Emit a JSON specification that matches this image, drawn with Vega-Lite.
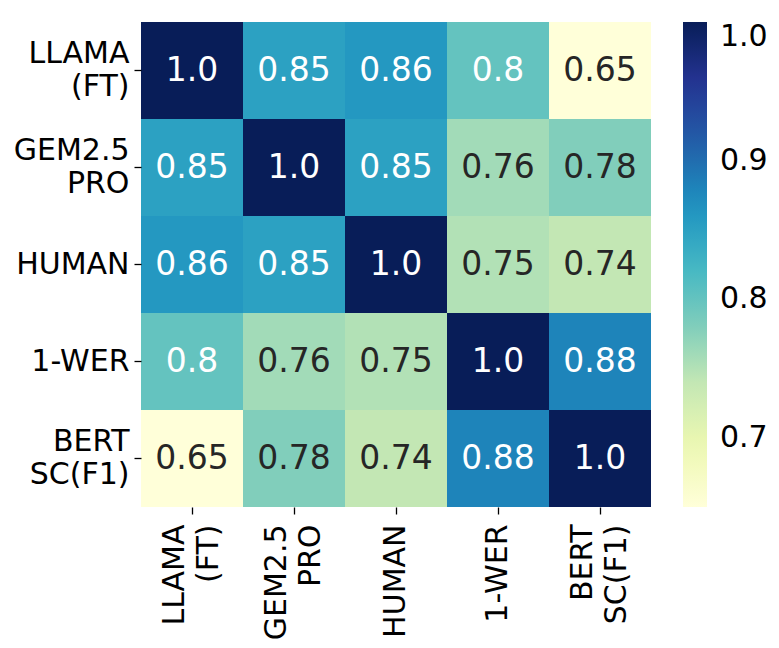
{
  "$schema": "https://vega.github.io/schema/vega-lite/v6.json",
  "width": 510,
  "height": 485,
  "autosize": {"type": "none"},
  "padding": {"left": 141, "top": 22, "right": 128, "bottom": 141},
  "background": "white",
  "config": {
    "view": {"stroke": null},
    "font": "DejaVu Sans"
  },
  "data": {
    "values": [
      {"row": "LLAMA (FT)", "col": "LLAMA (FT)", "v": 1.0},
      {"row": "LLAMA (FT)", "col": "GEM2.5 PRO", "v": 0.85},
      {"row": "LLAMA (FT)", "col": "HUMAN", "v": 0.86},
      {"row": "LLAMA (FT)", "col": "1-WER", "v": 0.8},
      {"row": "LLAMA (FT)", "col": "BERT SC(F1)", "v": 0.65},
      {"row": "GEM2.5 PRO", "col": "LLAMA (FT)", "v": 0.85},
      {"row": "GEM2.5 PRO", "col": "GEM2.5 PRO", "v": 1.0},
      {"row": "GEM2.5 PRO", "col": "HUMAN", "v": 0.85},
      {"row": "GEM2.5 PRO", "col": "1-WER", "v": 0.76},
      {"row": "GEM2.5 PRO", "col": "BERT SC(F1)", "v": 0.78},
      {"row": "HUMAN", "col": "LLAMA (FT)", "v": 0.86},
      {"row": "HUMAN", "col": "GEM2.5 PRO", "v": 0.85},
      {"row": "HUMAN", "col": "HUMAN", "v": 1.0},
      {"row": "HUMAN", "col": "1-WER", "v": 0.75},
      {"row": "HUMAN", "col": "BERT SC(F1)", "v": 0.74},
      {"row": "1-WER", "col": "LLAMA (FT)", "v": 0.8},
      {"row": "1-WER", "col": "GEM2.5 PRO", "v": 0.76},
      {"row": "1-WER", "col": "HUMAN", "v": 0.75},
      {"row": "1-WER", "col": "1-WER", "v": 1.0},
      {"row": "1-WER", "col": "BERT SC(F1)", "v": 0.88},
      {"row": "BERT SC(F1)", "col": "LLAMA (FT)", "v": 0.65},
      {"row": "BERT SC(F1)", "col": "GEM2.5 PRO", "v": 0.78},
      {"row": "BERT SC(F1)", "col": "HUMAN", "v": 0.74},
      {"row": "BERT SC(F1)", "col": "1-WER", "v": 0.88},
      {"row": "BERT SC(F1)", "col": "BERT SC(F1)", "v": 1.0}
    ]
  },
  "transform": [
    {"calculate": "datum.v === 1 ? '1.0' : toString(datum.v)", "as": "label"}
  ],
  "encoding": {
    "x": {
      "field": "col",
      "type": "nominal",
      "sort": ["LLAMA (FT)", "GEM2.5 PRO", "HUMAN", "1-WER", "BERT SC(F1)"],
      "scale": {"paddingInner": 0, "paddingOuter": 0},
      "axis": {
        "title": null,
        "domain": false,
        "grid": false,
        "orient": "bottom",
        "labelAngle": 270,
        "labelAlign": "right",
        "labelBaseline": "middle",
        "labelExpr": "split(datum.label, ' ')",
        "labelLineHeight": 34,
        "labelOffset": {"condition": {"test": "indexof(datum.value, ' ') >= 0", "value": -17}, "value": 0},
        "labelFont": "DejaVu Sans",
        "labelFontSize": 30,
        "labelColor": "black",
        "labelPadding": 10,
        "tickSize": 7,
        "tickWidth": 1.3,
        "tickColor": "black",
        "labelOverlap": false
      }
    },
    "y": {
      "field": "row",
      "type": "nominal",
      "sort": ["LLAMA (FT)", "GEM2.5 PRO", "HUMAN", "1-WER", "BERT SC(F1)"],
      "scale": {"paddingInner": 0, "paddingOuter": 0},
      "axis": {
        "title": null,
        "domain": false,
        "grid": false,
        "labelAngle": 0,
        "labelAlign": "right",
        "labelBaseline": "middle",
        "labelExpr": "split(datum.label, ' ')",
        "labelLineHeight": 33,
        "labelOffset": {"condition": {"test": "indexof(datum.value, ' ') >= 0", "value": -16.5}, "value": 0},
        "labelFont": "DejaVu Sans",
        "labelFontSize": 30,
        "labelColor": "black",
        "labelPadding": 5,
        "tickSize": 7,
        "tickWidth": 1.3,
        "tickColor": "black",
        "labelOverlap": false
      }
    }
  },
  "layer": [
    {
      "mark": {"type": "rect"},
      "encoding": {
        "color": {
          "field": "v",
          "type": "quantitative",
          "scale": {
            "domain": [0.65, 0.69375, 0.7375, 0.78125, 0.825, 0.86875, 0.9125, 0.95625, 1.0],
            "range": ["#ffffd9", "#edf8b1", "#c7e9b4", "#7fcdbb", "#41b6c4", "#1d91c0", "#225ea8", "#253494", "#081d58"],
            "interpolate": "rgb"
          },
          "legend": {
            "title": null,
            "orient": "right",
            "direction": "vertical",
            "values": [0.7, 0.8, 0.9, 1.0],
            "format": ".1f",
            "gradientLength": 485,
            "gradientThickness": 24,
            "gradientStrokeWidth": 0,
            "offset": 32,
            "padding": 0,
            "labelFont": "DejaVu Sans",
            "labelFontSize": 30,
            "labelColor": "black",
            "labelOffset": 13,
            "labelBaseline": "middle",
            "labelOverlap": false
          }
        }
      }
    },
    {
      "mark": {"type": "text", "font": "DejaVu Sans", "fontSize": 33, "baseline": "middle", "align": "center"},
      "encoding": {
        "text": {"field": "label", "type": "nominal"},
        "color": {
          "condition": {"test": "datum.v >= 0.79", "value": "white"},
          "value": "#262626"
        }
      }
    }
  ]
}
